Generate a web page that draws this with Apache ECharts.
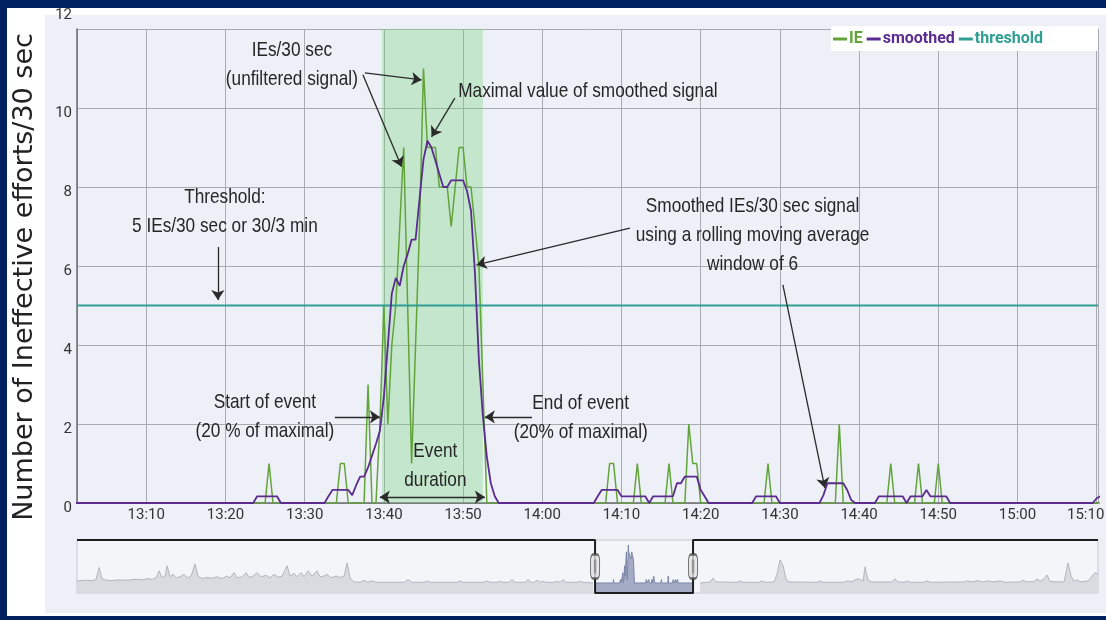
<!DOCTYPE html>
<html><head><meta charset="utf-8">
<script src="https://cdn.jsdelivr.net/npm/echarts@6/dist/echarts.min.js"></script>
<style>
html,body{margin:0;padding:0;width:1106px;height:620px;overflow:hidden;background:#00215f;}
#white{position:absolute;left:7px;top:8px;width:1099px;height:608px;background:#fff;}
#panel{position:absolute;left:45px;top:15px;width:1061px;height:598px;background:#eef0f7;}
#chart{position:absolute;left:0;top:0;width:1106px;height:620px;}
</style></head><body>
<div id="white"></div><div id="panel"></div><div id="chart"></div>
<script>
// ---------- data ----------
const xRange = ['13:01:15', '15:10:10'];
const yMin = 0, yMax = 12, yStep = 2;
const thresholdValue = 5;
const eventSpan = ['13:39:45', '13:52:30'];

const ieTimes = ['13:01:00','13:25:00','13:25:30','13:26:00','13:34:00','13:34:30','13:35:00','13:35:30',
 '13:37:30','13:38:00','13:38:30','13:39:00','13:39:30','13:40:00','13:40:30','13:41:00','13:41:30','13:42:00',
 '13:42:30','13:43:00','13:43:30','13:44:00','13:44:30','13:45:00','13:45:30','13:46:00','13:46:30','13:47:00',
 '13:47:30','13:48:00','13:48:30','13:49:00','13:49:30','13:50:00','13:50:30','13:51:00','13:51:30','13:52:00',
 '13:52:30','13:53:00','14:08:00','14:08:30','14:09:00','14:09:30','14:11:30','14:12:00','14:12:30','14:15:30',
 '14:16:00','14:16:30','14:18:00','14:18:30','14:19:00','14:19:30','14:20:00','14:28:00','14:28:30','14:29:00',
 '14:37:00','14:37:30','14:38:00','14:43:30','14:44:00','14:44:30','14:47:00','14:47:30','14:48:00','14:49:30',
 '14:50:00','14:50:30','15:11:00'];
const ieValues = [0,0,1,0,0,1,1,0,
 0,3,0,0,2,5,2,4,5,7,
 9,5,1,4,7,11,9,9,9,8,
 8,8,7,8,9,9,8,8,7,6,
 3,0,0,1,1,0,0,1,0,0,
 1,0,0,2,1,1,0,0,1,0,
 0,2,0,0,1,0,0,1,0,0,
 1,0,0];

const smTimes = ['13:01:00','13:23:30','13:24:00','13:26:30','13:27:00','13:32:30','13:33:00','13:33:30','13:35:30',
 '13:36:00','13:36:30','13:37:00','13:37:30','13:38:00','13:38:30','13:39:00','13:39:30','13:40:00','13:40:30',
 '13:41:00','13:41:30','13:42:00','13:42:30','13:43:00','13:43:30','13:44:00','13:44:30','13:45:00','13:45:30',
 '13:46:00','13:46:30','13:47:00','13:47:30','13:48:00','13:48:30','13:50:00','13:50:30','13:51:00','13:51:30',
 '13:52:00','13:52:30','13:53:00','13:53:30','13:54:00','13:54:30','14:06:30','14:07:00','14:07:30','14:09:30',
 '14:10:00','14:13:00','14:13:30','14:14:00','14:16:30','14:17:00','14:17:30','14:18:00','14:19:30','14:20:00',
 '14:20:30','14:21:00','14:26:30','14:27:00','14:29:30','14:30:00','14:35:00','14:35:30','14:36:00','14:38:00',
 '14:38:30','14:39:00','14:39:30','14:42:00','14:42:30','14:45:30','14:46:00','14:46:30','14:48:00','14:48:30',
 '14:49:00','14:51:00','14:51:30','15:09:30','15:10:00','15:10:30'];
const smValues = [0,0,0.17,0.17,0,0,0.17,0.33,0.33,
 0.2,0.45,0.67,0.67,0.9,1.2,1.5,1.83,2.7,4.0,
 5.3,5.7,5.5,6.0,6.3,6.67,6.67,7.7,8.7,9.17,
 9.0,8.67,8.33,8.0,8.0,8.17,8.17,7.9,7.4,5.8,
 3.6,2.2,1.17,0.5,0.17,0,0,0.17,0.33,0.33,
 0.17,0.17,0,0.17,0.17,0.5,0.5,0.67,0.67,0.33,
 0.17,0,0,0.17,0.17,0,0,0.2,0.5,0.5,
 0.33,0.08,0,0,0.17,0.17,0,0.17,0.17,0.33,
 0.17,0.17,0,0,0.12,0.17];

// overview (range selector) of the whole recording, hours of day
const overviewRange = [1.66, 24.05];
const ovYRange = [-2.9, 12.45];
const ovLeftHours = [1.662,1.837,1.990,2.078,2.144,2.210,2.297,2.429,2.561,2.692,2.824,2.955,3.087,3.218,3.306,3.394,
 3.460,3.525,3.591,3.635,3.701,3.767,3.833,3.920,4.008,4.074,4.161,4.249,4.315,4.403,4.512,4.622,4.732,4.841,4.951,
 5.017,5.104,5.170,5.280,5.367,5.433,5.521,5.609,5.696,5.806,5.894,5.981,6.069,6.157,6.267,6.332,6.420,6.486,6.574,
 6.639,6.727,6.815,6.924,6.990,7.078,7.144,7.232,7.341,7.429,7.517,7.582,7.648,7.736,7.867,7.955,8.021,8.131,8.218,
 8.832,8.920,9.008,9.271,9.337,9.402,9.995,10.060,10.126,10.587,10.653,10.718,10.872,10.938,11.003,11.135,11.200,
 11.266,11.486,11.552,11.618,11.683,11.749,11.815,11.880,11.946,12.121,12.187,12.253,12.319,12.385,12.626,12.692,
 12.757,12.977];
const ovLeftValues = [0.6,0.8,0.7,1.0,4.5,1.2,0.8,0.7,0.9,0.8,0.9,1.1,0.9,1.3,1.0,1.5,
 3.5,1.5,2.0,5.0,1.8,2.5,1.5,1.8,2.5,1.5,2.0,5.5,2.0,1.3,1.6,1.4,1.8,1.3,2.0,
 1.5,3.0,1.5,1.8,3.0,1.6,2.0,3.0,1.8,2.2,1.5,2.5,1.7,2.0,5.0,2.0,2.8,1.8,3.0,
 1.8,3.5,2.0,3.5,1.8,2.0,2.5,1.5,2.0,1.6,2.0,5.8,1.5,0.3,0.2,0.8,0.2,0.6,0.2,
 0.2,1.0,0.2,0.2,0.6,0.2,0.2,0.6,0.2,0.2,0.6,0.2,0.2,0.5,0.2,0.2,1.0,
 0.2,0.2,1.0,0.2,0.2,0.8,0.2,0.5,0.2,0.2,0.5,0.2,1.0,0.2,0.2,0.5,
 0.2,0];
const ovRightHours = [15.323,15.543,15.608,15.674,16.134,16.200,16.266,16.617,16.683,16.749,16.946,17.012,17.078,
 17.144,17.209,17.275,17.889,17.955,18.020,18.481,18.547,18.656,18.766,18.832,18.898,18.942,19.007,19.095,19.534,
 19.599,19.665,19.797,19.863,19.929,20.236,20.301,20.367,21.112,21.178,21.288,21.397,21.507,21.639,21.770,21.902,
 22.012,22.341,22.406,22.472,22.648,22.713,22.780,22.867,22.933,22.999,23.306,23.393,23.459,23.525,23.591,23.678,
 23.832,23.919,23.985,24.050];
const ovRightValues = [0,0.3,1.4,0.3,0.2,0.6,0.2,0.2,0.6,0.2,0.3,2.5,6.7,
 5.0,1.0,0.3,0.2,0.6,0.2,0.2,0.6,0.4,1.2,1.0,0.5,4.7,0.8,0.3,0.3,
 1.2,0.3,0.2,0.6,0.2,0.2,0.6,0.2,0.3,0.6,0.3,0.7,0.3,0.6,0.3,0.6,
 0.2,0.3,0.9,0.3,0.4,1.2,0.5,1.2,2.3,0.4,0.3,5.8,2.0,0.6,0.9,0.3,
 0.6,2.0,3.0,2.6];

// annotations: x in minutes after 13:00, y in chart units
const notes = [
 {m: 28.38, v: 11.10, text: 'IEs/30 sec\n(unfiltered signal)'},
 {m: 65.76, v: 10.43, text: 'Maximal value of smoothed signal'},
 {m: 19.92, v: 7.38, text: 'Threshold:\n5 IEs/30 sec or 30/3 min'},
 {m: 86.55, v: 6.78, text: 'Smoothed IEs/30 sec signal\nusing a rolling moving average\nwindow of 6'},
 {m: 24.97, v: 2.18, text: 'Start of event\n(20 % of maximal)'},
 {m: 64.85, v: 2.17, text: 'End of event\n(20% of maximal)'},
 {m: 46.50, v: 0.94, text: 'Event\nduration'}
];
const arrows = [
 {from: [19.04, 6.48], to: [19.04, 5.14]},
 {from: [37.35, 10.84], to: [42.23, 8.51]},
 {from: [37.60, 10.89], to: [44.76, 10.71]},
 {from: [48.96, 10.25], to: [46.02, 9.27]},
 {from: [71.06, 6.96], to: [51.70, 6.03]},
 {from: [90.38, 5.52], to: [95.68, 0.38]},
 {from: [33.81, 2.18], to: [39.49, 2.18]},
 {from: [58.69, 2.18], to: [52.75, 2.18]},
 {from: [39.49, 0.15], to: [52.75, 0.15], both: true}
];

// ---------- helpers ----------
function ts(hms) { const p = hms.split(':').map(Number); return new Date(2020, 0, 1, p[0], p[1], p[2] || 0).getTime(); }
function hoursOf(t) { const d = new Date(t); return d.getHours() + d.getMinutes() / 60 + d.getSeconds() / 3600; }
const T0 = ts('13:00:00');
function minT(m) { return T0 + m * 60000; }
function pad(n) { return (n < 10 ? '0' : '') + n; }

const GREEN = '#62a33a', PURPLE = '#5b2b90', TEAL = '#2f9e93';
const TICKFONT = "Roboto, 'Liberation Sans', sans-serif";
const NOTEFONT = "'Liberation Sans', Arial, sans-serif";

const ieData = ieTimes.map((t, i) => [ts(t), ieValues[i]]);
const smData = smTimes.map((t, i) => [ts(t), smValues[i]]);
const xMin = ts(xRange[0]), xMax = ts(xRange[1]);
const winStart = hoursOf(xMin), winEnd = hoursOf(xMax);
const ovLeft = ovLeftHours.map((h, i) => [h, ovLeftValues[i]]);
const ovRight = ovRightHours.map((h, i) => [h, ovRightValues[i]]);
const ovWin = ieTimes.map((t, i) => [hoursOf(ts(t)), ieValues[i]]);
const ovTop = ovYRange[1], ovBot = ovYRange[0], ovMid = (ovTop + ovBot) / 2;
const frame = [[overviewRange[0], ovTop], [winStart, ovTop], [winStart, ovBot], [winEnd, ovBot], [winEnd, ovTop], [overviewRange[1], ovTop]];

const baseGraphic = [
  {type: 'text', id: 'ytitle', x: 25, y: 277, rotation: Math.PI / 2, silent: true,
   style: {text: 'Number of Ineffective efforts/30 sec', fontFamily: "'DejaVu Sans', Verdana, sans-serif",
           fontSize: 27, fill: '#222', align: 'center', verticalAlign: 'middle'}},
  {type: 'rect', id: 'legendBox', shape: {x: 831, y: 26, width: 267, height: 25}, silent: true, z: 1,
   style: {fill: '#ffffff'}}
];

const chart = echarts.init(document.getElementById('chart'), null, {renderer: 'canvas'});
chart.setOption({
  animation: false,
  backgroundColor: 'transparent',
  grid: [
    {left: 77, top: 29, right: 8, bottom: 117, outerBoundsMode: 'none', containLabel: false},
    {left: 77, top: 540, right: 8, height: 53, outerBoundsMode: 'none', containLabel: false,
     show: true, backgroundColor: '#f4f5f9', borderColor: '#c6c8ce', borderWidth: 1}
  ],
  legend: {
    left: 833, top: 31, padding: 0, width: 400, z: 5,
    icon: 'rect', itemWidth: 14, itemHeight: 3, itemGap: 4,
    textStyle: {fontFamily: TICKFONT, fontSize: 16, fontWeight: 'bold', padding: [0, 0, 0, -3]},
    data: [
      {name: 'IE', textStyle: {color: GREEN}},
      {name: 'smoothed', textStyle: {color: PURPLE}},
      {name: 'threshold', textStyle: {color: TEAL}}
    ]
  },
  xAxis: [
    {
      type: 'time', gridIndex: 0, min: xMin, max: xMax,
      minInterval: 720000, maxInterval: 720000,
      axisLine: {show: true, lineStyle: {color: '#6b6d73', width: 1.5}},
      axisTick: {show: false},
      splitLine: {show: true, lineStyle: {color: '#a9abb1', width: 1}},
      axisLabel: {
        color: '#333', fontFamily: TICKFONT, fontSize: 15, margin: 5, showMinLabel: false,
        formatter: v => {
          const d = new Date(v), s = pad(d.getHours()) + ':' + pad(d.getMinutes());
          return (xMax - v < 300000) ? '{r|' + s + '}' : s;
        },
        rich: {r: {fontFamily: TICKFONT, fontSize: 15, color: '#333', padding: [0, 22, 0, 0]}}
      }
    },
    {type: 'value', gridIndex: 1, min: overviewRange[0], max: overviewRange[1], show: false}
  ],
  yAxis: [
    {
      type: 'value', gridIndex: 0, min: yMin, max: yMax, interval: yStep,
      axisLine: {show: true, lineStyle: {color: '#6b6d73', width: 1.5}},
      axisTick: {show: false},
      splitLine: {show: true, lineStyle: {color: '#a9abb1', width: 1}},
      axisLabel: {
        margin: 5, color: '#333', fontFamily: TICKFONT, fontSize: 15,
        formatter: v => v === yMax ? '{t|' + v + '}' : '{n|' + v + '}',
        rich: {
          n: {fontFamily: TICKFONT, fontSize: 15, color: '#333', padding: [10, 0, 0, 0]},
          t: {fontFamily: TICKFONT, fontSize: 15, color: '#333', padding: [0, 0, 28, 0]}
        }
      }
    },
    {type: 'value', gridIndex: 1, min: ovYRange[0], max: ovYRange[1], show: false}
  ],
  graphic: baseGraphic,
  series: [
    {
      name: 'IE', type: 'line', data: ieData, showSymbol: false, z: 3,
      lineStyle: {color: GREEN, width: 1.5}, itemStyle: {color: GREEN},
      markArea: {silent: true, itemStyle: {color: 'rgba(118,214,128,0.36)'},
                 data: [[{xAxis: ts(eventSpan[0])}, {xAxis: ts(eventSpan[1])}]]}
    },
    {
      name: 'smoothed', type: 'line', data: smData, showSymbol: false, z: 4,
      lineStyle: {color: PURPLE, width: 1.8}, itemStyle: {color: PURPLE}
    },
    {
      name: 'threshold', type: 'line', data: [[xMin, thresholdValue], [xMax, thresholdValue]], showSymbol: false, z: 3,
      lineStyle: {color: TEAL, width: 2}, itemStyle: {color: TEAL},
      markLine: {
        silent: true, animation: false, symbolSize: 10,
        label: {show: false},
        lineStyle: {color: '#2a2a2a', width: 1.3, type: 'solid'},
        emphasis: {disabled: true},
        data: arrows.map(a => [
          {coord: [minT(a.from[0]), a.from[1]], symbol: a.both ? 'arrow' : 'none'},
          {coord: [minT(a.to[0]), a.to[1]], symbol: 'arrow'}
        ])
      }
    },
    // overview / range selector
    {
      name: 'ovLeft', type: 'line', xAxisIndex: 1, yAxisIndex: 1, data: ovLeft, showSymbol: false, silent: true,
      lineStyle: {color: '#b3b6bd', width: 1}, areaStyle: {color: '#d9dbe1', origin: 'start', opacity: 1}
    },
    {
      name: 'ovWin', type: 'line', xAxisIndex: 1, yAxisIndex: 1, data: ovWin, showSymbol: false, silent: true,
      lineStyle: {color: '#7c86a8', width: 1}, areaStyle: {color: '#a4abc5', origin: 'start', opacity: 1}
    },
    {
      name: 'ovRight', type: 'line', xAxisIndex: 1, yAxisIndex: 1, data: ovRight, showSymbol: false, silent: true,
      lineStyle: {color: '#b3b6bd', width: 1}, areaStyle: {color: '#d9dbe1', origin: 'start', opacity: 1}
    },
    {
      name: 'ovFrame', type: 'line', xAxisIndex: 1, yAxisIndex: 1, data: frame, showSymbol: false, silent: true,
      clip: false, z: 5, lineStyle: {color: '#1e1e1e', width: 2}
    },
    {
      name: 'ovHandles', type: 'scatter', xAxisIndex: 1, yAxisIndex: 1, silent: true, z: 6,
      symbol: 'roundRect', symbolSize: [9, 24],
      itemStyle: {color: '#e4e4e6', borderColor: '#4a4a4a', borderWidth: 1.5},
      data: [[winStart, ovMid], [winEnd, ovMid]]
    },
    {
      name: 'ovHandleGrip', type: 'scatter', xAxisIndex: 1, yAxisIndex: 1, silent: true, z: 7,
      symbol: 'rect', symbolSize: [2.5, 14], itemStyle: {color: '#8a8a8e'},
      data: [[winStart, ovMid], [winEnd, ovMid]]
    }
  ]
});

// annotation texts, placed at data coordinates through the chart's own scales
const noteGraphics = notes.map((n, i) => {
  const p = chart.convertToPixel({xAxisIndex: 0, yAxisIndex: 0}, [minT(n.m), n.v]);
  return {
    type: 'text', id: 'note' + i, x: p[0], y: p[1], scaleX: 0.82, silent: true, z: 10,
    style: {text: n.text, fontFamily: NOTEFONT, fontSize: 21, fill: '#262626',
            align: 'center', verticalAlign: 'middle', lineHeight: 29}
  };
});
chart.setOption({graphic: baseGraphic.concat(noteGraphics)});
</script>
</body></html>
